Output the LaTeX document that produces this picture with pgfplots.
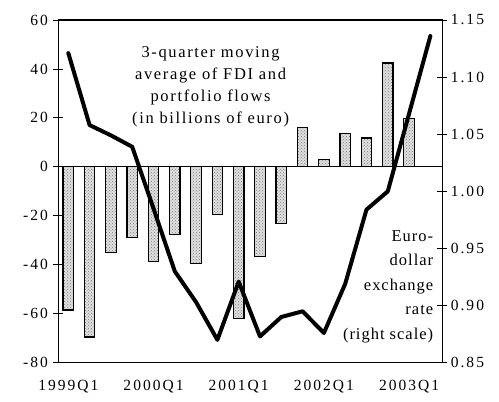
\documentclass[border=0pt]{standalone}
\usepackage{fontspec}
\setmainfont{Liberation Serif}[LetterSpace=13]
\usepackage{pgfplots}
\pgfplotsset{compat=1.18}
\usetikzlibrary{patterns}

% flows, 3-quarter moving average, bn euro (left scale)
\pgfplotstableread{
q   flow
0   -58.5
1   -69.5
2   -35
3   -29
4   -38.5
5   -27.5
6   -39.5
7   -19.5
8   -62
9   -36.5
10  -23
11  16
12  3
13  13.7
14  11.8
15  42.4
16  19.6
}\flows

% euro-dollar exchange rate (right scale)
\pgfplotstableread{
q   usd
0   1.121
1   1.058
2   1.049
3   1.039
4   0.985
5   0.930
6   0.903
7   0.870
8   0.921
9   0.873
10  0.890
11  0.895
12  0.876
13  0.919
14  0.984
15  1.000
16  1.068
17  1.136
}\rate

\begin{document}
\begin{tikzpicture}
\pgfplotsset{
  every axis/.append style={
    scale only axis, width=384pt, height=342.7pt,
    xmin=-0.47, xmax=17.56,
    tick align=center, major tick length=10pt,
    every tick/.style={black, line width=0.9pt},
    axis line style={line width=1.1pt},
    ticklabel style={font=\fontsize{15.5}{18}\selectfont},
    /pgf/number format/assume math mode=true,
  },
}
\begin{axis}[
  ymin=-80, ymax=60, ytick={-80,-60,...,60}, ytick pos=left,
  xtick={0,4,8,12,16},
  xticklabels={1999Q1,2000Q1,2001Q1,2002Q1,2003Q1},
  x tick style={draw=none},
  xticklabel style={yshift=-9pt},
  yticklabel style={xshift=-2pt},
]
\draw[black, line width=0.8pt] (axis cs:-0.47,0) -- (axis cs:17.56,0);
\addplot[ybar, bar width=10.5pt, draw=black, line width=1.2pt, fill=gray!25,
  postaction={pattern=crosshatch dots, pattern color=gray!95!black}]
  table[x=q, y=flow] {\flows};
\node[align=center, inner sep=0pt,
  font=\fontsize{16.5}{22}\selectfont\addfontfeatures{LetterSpace=10}]
  at (axis cs:6.68,32.6) {3-quarter moving\\average of FDI and\\portfolio flows\\(in billions of euro)};
\node[align=right, anchor=east, inner sep=0pt,
  font=\fontsize{16.5}{24.5}\selectfont\addfontfeatures{LetterSpace=6}]
  at (axis cs:17.14,-49) {Euro-\\dollar\\exchange\\rate\\(right scale)};
\coordinate (bl) at (rel axis cs:0,0);
\coordinate (tr) at (rel axis cs:1,1);
\end{axis}
\begin{axis}[
  ymin=0.85, ymax=1.15, ytick={0.85,0.90,...,1.15},
  axis y line*=right, hide x axis,
  yticklabel style={/pgf/number format/.cd, fixed, fixed zerofill, precision=2},
]
\addplot[black, line width=4pt, line join=round, line cap=round]
  table[x=q, y=usd] {\rate};
\end{axis}
\pgfresetboundingbox
\path (bl) ++(-58.3pt,-39.3pt) coordinate (pbl);
\path (tr) ++(56.7pt,20pt) coordinate (ptr);
\path (pbl) rectangle (ptr);
\end{tikzpicture}
\end{document}
